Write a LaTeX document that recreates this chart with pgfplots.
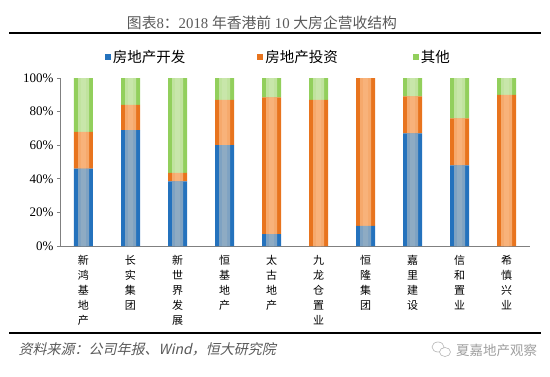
\documentclass[border=0pt]{standalone}
\usepackage{fontspec}
\setmainfont{Liberation Serif}
\newfontfamily\cjk{Noto Sans CJK SC}
\newfontfamily\cjkit{Noto Sans CJK SC}[FakeSlant=0.22]
\usepackage{pgfplots}
\pgfplotsset{compat=1.18}
\definecolor{bedge}{HTML}{2472BD}
\definecolor{bmid}{HTML}{8EABC3}
\definecolor{oedge}{HTML}{E8741E}
\definecolor{omid}{HTML}{F8B27A}
\definecolor{gedge}{HTML}{92CF5C}
\definecolor{gmid}{HTML}{C8E6AA}
\definecolor{axgray}{HTML}{808080}
\definecolor{txtgray}{HTML}{595959}
\pgfplotsset{
  common/.style={
    at={(60pt,130pt)}, anchor=south west,
    scale only axis, width=470pt, height=168pt,
    ybar stacked,
    xmin=-0.5, xmax=9.5, ymin=0, ymax=100,
  }
}
\begin{document}
\begin{tikzpicture}
\useasboundingbox (0pt,0pt) rectangle (550pt,376pt);
% title
\node[text=txtgray, font=\fontsize{14.8}{16}\selectfont] at (262pt,353pt) {{\cjk 图表}8{\cjk ：}2018 {\cjk 年香港前} 10 {\cjk 大房企营收结构}};
\draw[line width=1.6pt, black] (9pt,343pt) -- (541pt,343pt);
\draw[line width=1.6pt, black] (9pt,43pt) -- (541pt,43pt);
\node[anchor=west, text=txtgray, font=\cjkit\fontsize{14}{15}\selectfont] at (15pt,27pt) {资料来源：公司年报、Wind，恒大研究院};
% watermark
\draw[gray!60, line width=0.6pt] (438pt,29pt) ellipse (6pt and 5pt);
\draw[gray!60, line width=0.6pt, fill=white] (445pt,24pt) ellipse (5.5pt and 4.5pt);
\node[anchor=west, text=gray!75, font=\cjk\fontsize{13.5}{15}\selectfont, inner sep=0pt] at (456pt,26pt) {夏嘉地产观察};
% outer (edge colour) bars with axes
\begin{axis}[
  common, bar width=19pt,
  axis lines*=left,
  axis line style={draw=axgray, line width=0.9pt, -},
  xtick={0,...,9},
  xtick style={draw=none},
  xticklabels={{新\\鸿\\基\\地\\产},{长\\实\\集\\团},{新\\世\\界\\发\\展},{恒\\基\\地\\产},{太\\古\\地\\产},{九\\龙\\仓\\置\\业},{恒\\隆\\集\\团},{嘉\\里\\建\\设},{信\\和\\置\\业},{希\\慎\\兴\\业}},
  xticklabel style={font=\cjk\fontsize{11}{15}\selectfont, align=center, anchor=north, yshift=-3pt},
  ytick={0,20,40,60,80,100},
  yticklabels={0\%,20\%,40\%,60\%,80\%,100\%},
  yticklabel style={font=\fontsize{13}{14}\selectfont},
  ytick style={draw=axgray, line width=0.8pt},
  tick align=outside, major tick length=3pt,
  legend columns=3,
  legend style={draw=none, fill=none, at={(0.095,1.125)}, anchor=west, font=\cjk\fontsize{14.5}{15}\selectfont, inner sep=0pt},
  legend image code/.code={\fill[#1] (0pt,-3pt) rectangle (6pt,3pt);},
]
\addplot[draw=none, fill=bedge] coordinates {(0,46) (1,69) (2,38.5) (3,60) (4,7) (5,0) (6,12) (7,67) (8,48) (9,0)};
\addplot[draw=none, fill=oedge] coordinates {(0,22) (1,15) (2,5) (3,27) (4,81.5) (5,87) (6,88) (7,22) (8,28) (9,90)};
\addplot[draw=none, fill=gedge] coordinates {(0,32) (1,16) (2,56.5) (3,13) (4,11.5) (5,13) (6,0) (7,11) (8,24) (9,10)};
\legend{房地产开发\rule{70pt}{0pt},房地产投资\rule{73pt}{0pt},其他}
\end{axis}
% inner (lighter) bars
\begin{axis}[
  common, bar width=11pt,
  hide axis,
]
\addplot[draw=none, fill=bmid!85!bedge] coordinates {(0,46) (1,69) (2,38.5) (3,60) (4,7) (5,0) (6,12) (7,67) (8,48) (9,0)};
\addplot[draw=none, fill=omid!85!oedge] coordinates {(0,22) (1,15) (2,5) (3,27) (4,81.5) (5,87) (6,88) (7,22) (8,28) (9,90)};
\addplot[draw=none, fill=gmid!85!gedge] coordinates {(0,32) (1,16) (2,56.5) (3,13) (4,11.5) (5,13) (6,0) (7,11) (8,24) (9,10)};
\end{axis}
\begin{axis}[
  common, bar width=5pt,
  hide axis,
]
\addplot[draw=none, fill=bmid] coordinates {(0,46) (1,69) (2,38.5) (3,60) (4,7) (5,0) (6,12) (7,67) (8,48) (9,0)};
\addplot[draw=none, fill=omid] coordinates {(0,22) (1,15) (2,5) (3,27) (4,81.5) (5,87) (6,88) (7,22) (8,28) (9,90)};
\addplot[draw=none, fill=gmid] coordinates {(0,32) (1,16) (2,56.5) (3,13) (4,11.5) (5,13) (6,0) (7,11) (8,24) (9,10)};
\end{axis}
\end{tikzpicture}
\end{document}
